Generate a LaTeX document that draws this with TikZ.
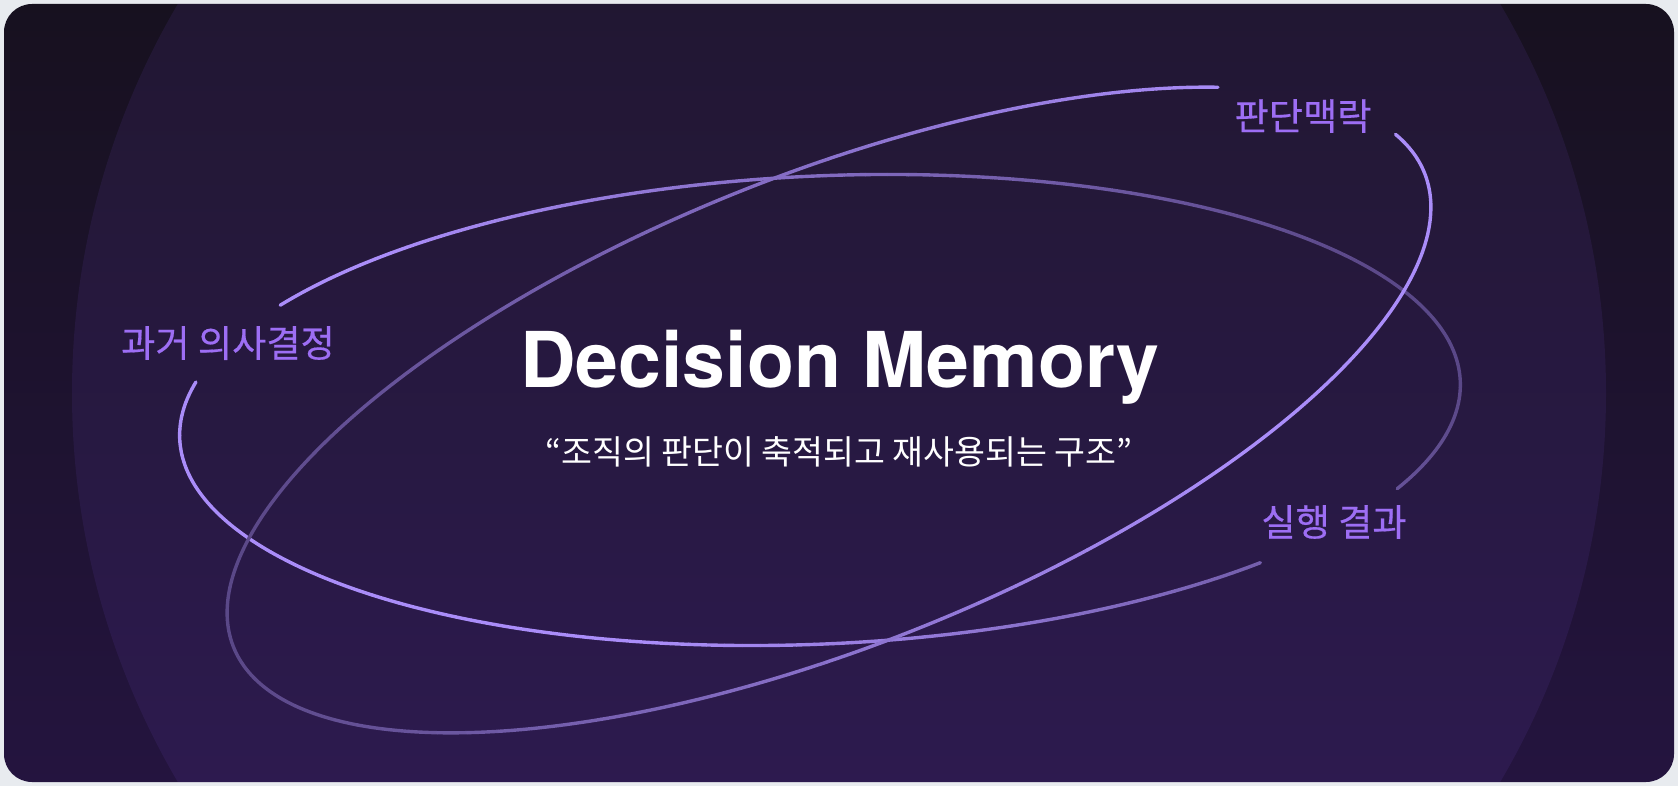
\documentclass[tikz,border=0pt]{standalone}
\usepackage{fontspec}
\newfontfamily\krfont{Noto Sans CJK KR}
\newfontfamily\krmedfont{Noto Sans CJK KR}[FakeBold=0.45]
\newfontfamily\herosfont{TeX Gyre Heros}
\definecolor{pagebg}{HTML}{E8EBEF}
\definecolor{cardtop}{HTML}{17111F}
\definecolor{cardbot}{HTML}{24143F}
\definecolor{glowc}{HTML}{8B5CF6}
\definecolor{ringbright}{HTML}{AA8DF9}
\definecolor{ringbg}{HTML}{251A3C}
\definecolor{labelc}{HTML}{9D6EF4}
\tikzset{
  ringline/.style={line width=1.7pt, line cap=round},
  titletext/.style={font=\herosfont\bfseries\fontsize{38.5}{40}\selectfont, text=white, inner sep=0pt, anchor=base},
  subtext/.style={font=\krfont\fontsize{16.8}{19}\selectfont, text=white, inner sep=0pt, anchor=base},
  labeltext/.style={font=\krmedfont\fontsize{18.6}{21}\selectfont, text=labelc, inner sep=0pt, anchor=base}
}
% #1 cx, #2 cy (screen px), #3 a, #4 b, #5 rotation, #6 t0, #7 t1, #8 brightness formula (percent) in \xm,\ym
\newcommand\drawringarc[8]{%
  \pgfmathsetmacro\dstep{(#7-#6)/90}%
  \foreach \i in {0,...,89}{%
    \pgfmathsetmacro\ta{#6+\dstep*\i}%
    \pgfmathsetmacro\tb{#6+\dstep*(\i+1)}%
    \pgfmathsetmacro\tm{(\ta+\tb)/2}%
    \pgfmathsetmacro\xm{#1+#3*cos(\tm)*cos(#5)-#4*sin(\tm)*sin(#5)}%
    \pgfmathsetmacro\ym{#2-(#3*cos(\tm)*sin(#5)+#4*sin(\tm)*cos(#5))}%
    \pgfmathtruncatemacro\op{#8}%
    \colorlet{segc}{ringbright!\op!ringbg}%
    \draw[ringline, draw=segc, shift={(#1,-#2)}, rotate=#5]
      (\ta:#3 and #4) arc[start angle=\ta, end angle=\tb, x radius=#3, y radius=#4];
  }%
}
\newcommand\hbright{100-60*max(0,min(1,((0.8*(\xm-180)/1280+0.2*(647-\ym)/471)-0.3)/0.62))}
\begin{document}
\begin{tikzpicture}[x=0.5pt, y=0.5pt]
\useasboundingbox (0,0) rectangle (1678,-786);
\fill[pagebg] (0,0) rectangle (1678,-786);
\begin{scope}
  \clip[rounded corners=14] (4,-4) rectangle (1674,-782);
  \shade[top color=cardtop, bottom color=cardbot] (0,0) rectangle (1678,-786);
  \fill[glowc, opacity=0.09] (839,-393) circle (767);
\end{scope}

% horizontal ring: bright on the left, dimmer towards the upper right
\drawringarc{820}{410}{641}{234}{2.6}{-26.6}{146.5}{\hbright}
\drawringarc{820}{410}{641}{234}{2.6}{166.1}{312.5}{\hbright}
% tilted ring: dim on the left, bright on the right
\drawringarc{829}{410}{641}{236}{21.7}{41.4}{371.4}{40+60*max(0,min(1,(\xm-228)/1000))}

\node[titletext] (title) at (840,-388) {Decision Memory};
\node[subtext] (subtitle) at (839,-465) {“조직의 판단이 축적되고 재사용되는 구조”};
\node[labeltext] (pastlabel) at (228,-357) {과거 의사결정};
\node[labeltext] (contextlabel) at (1303,-130) {판단맥락};
\node[labeltext] (resultlabel) at (1334,-536) {실행 결과};
\end{tikzpicture}
\end{document}
